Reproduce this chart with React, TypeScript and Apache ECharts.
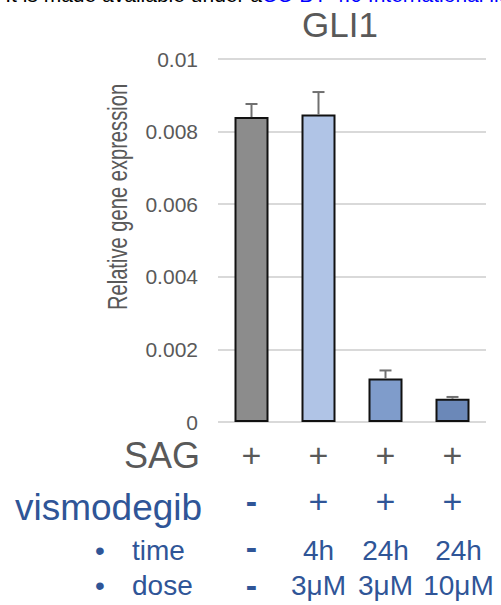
import React, { useEffect, useRef } from "react";
import * as echarts from "echarts";

const categories = ["SAG", "SAG+vismo 4h 3μM", "SAG+vismo 24h 3μM", "SAG+vismo 24h 10μM"];
const values = [0.0084, 0.00847, 0.0012, 0.00064];
const errors = [0.00036, 0.00062, 0.00022, 0.00005];
const barColors = ["#8c8c8c", "#b0c4e6", "#7f9ccb", "#6b88b8"];
const sagRow = ["+", "+", "+", "+"];
const vismoRow = ["-", "+", "+", "+"];
const timeRow = ["-", "4h", "24h", "24h"];
const doseRow = ["-", "3μM", "3μM", "10μM"];
const yTicks = { min: 0, max: 0.01, interval: 0.002 };

const FONT = "'Liberation Sans', Arial, sans-serif";
const GRAY = "#595959";
const BLUE = "#2f5597";

export default function App() {
  const ref = useRef<HTMLDivElement>(null);
  useEffect(() => {
    if (!ref.current) return;
    const chart = echarts.init(ref.current, null, { renderer: "svg" });
    const rowAxis = (data: string[], margin: number, fontSize: number, color: string, dashPadBottom: number) => ({
      type: "category",
      gridIndex: 0,
      position: "bottom",
      data,
      axisLine: { show: false },
      axisTick: { show: false },
      splitLine: { show: false },
      axisLabel: {
        margin,
        fontSize,
        color,
        fontFamily: FONT,
        verticalAlign: "middle",
        interval: 0,
        formatter: (v: string, i: number) => {
          if (v === "-") return "{m|-}";
          if (i === data.length - 1 && v.length > 1) return "{r|" + v + "}";
          return v;
        },
        rich: {
          m: { fontSize: 34, lineHeight: 22, fontWeight: "bold", color, fontFamily: FONT, padding: [0, 0, dashPadBottom, 0] },
          r: { fontSize, color, fontFamily: FONT, padding: [0, 0, 0, 12] },
        },
      },
    });
    chart.setOption({
      animation: false,
      grid: { left: 218, right: 15, top: 59, bottom: 183, outerBoundsMode: "none" },
      xAxis: [
        {
          type: "category",
          data: categories,
          axisLine: { show: false },
          axisTick: { show: false },
          axisLabel: { show: false },
        },
        rowAxis(sagRow, 33, 34, GRAY, 0),
        rowAxis(vismoRow, 79, 34, BLUE, 0),
        rowAxis(timeRow, 128, 28, BLUE, 6),
        rowAxis(doseRow, 163, 28, BLUE, 0),
      ],
      yAxis: {
        type: "value",
        min: yTicks.min,
        max: yTicks.max,
        interval: yTicks.interval,
        axisLine: { show: false },
        axisTick: { show: false },
        axisLabel: { fontSize: 21, color: GRAY, fontFamily: FONT, margin: 20 },
        splitLine: { lineStyle: { color: "#d9d9d9", width: 2 } },
      },
      series: [
        {
          type: "bar",
          xAxisIndex: 0,
          barWidth: 34,
          data: values.map((v, i) => ({
            value: v,
            itemStyle: { color: barColors[i], borderColor: "#111", borderWidth: 2 },
          })),
        },
        {
          type: "custom",
          xAxisIndex: 0,
          z: 5,
          data: values.map((v, i) => [i, v, errors[i]]),
          encode: { x: 0, y: 1 },
          renderItem: (params: any, api: any) => {
            const x = api.value(0);
            const v = api.value(1);
            const e = api.value(2);
            const base = api.coord([x, v]);
            const top = api.coord([x, v + e]);
            const style = { stroke: "#707070", lineWidth: 2 };
            return {
              type: "group",
              children: [
                { type: "line", shape: { x1: top[0], y1: base[1], x2: top[0], y2: top[1] }, style },
                { type: "line", shape: { x1: top[0] - 6, y1: top[1], x2: top[0] + 6, y2: top[1] }, style },
              ],
            };
          },
        },
      ],
      graphic: [
        {
          type: "text",
          x: 262,
          y: -6,
          style: { text: "It is made available under a", fill: "#000", font: `21px ${FONT}`, align: "right", verticalAlign: "middle" },
        },
        {
          type: "text",
          x: 262,
          y: -6,
          style: { text: "CC-BY 4.0 International license", fill: "#0000ff", font: `21px ${FONT}`, align: "left", verticalAlign: "middle" },
        },
        {
          type: "text",
          x: 340,
          y: 24,
          style: { text: "GLI1", fill: GRAY, font: `35px ${FONT}`, align: "center", verticalAlign: "middle" },
        },
        {
          type: "text",
          x: 117,
          y: 197,
          rotation: Math.PI / 2,
          scaleX: 0.72,
          scaleY: 1,
          style: { text: "Relative gene expression", fill: GRAY, font: `28px ${FONT}`, align: "center", verticalAlign: "middle" },
        },
        {
          type: "text",
          x: 200,
          y: 455,
          style: { text: "SAG", fill: GRAY, font: `36px ${FONT}`, align: "right", verticalAlign: "middle" },
        },
        {
          type: "text",
          x: 15,
          y: 507,
          style: { text: "vismodegib", fill: BLUE, font: `37px ${FONT}`, align: "left", verticalAlign: "middle" },
        },
        {
          type: "text",
          x: 100,
          y: 550,
          style: { text: "•", fill: BLUE, font: `28px ${FONT}`, align: "center", verticalAlign: "middle" },
        },
        {
          type: "text",
          x: 132,
          y: 550,
          style: { text: "time", fill: BLUE, font: `28px ${FONT}`, align: "left", verticalAlign: "middle" },
        },
        {
          type: "text",
          x: 100,
          y: 585,
          style: { text: "•", fill: BLUE, font: `28px ${FONT}`, align: "center", verticalAlign: "middle" },
        },
        {
          type: "text",
          x: 132,
          y: 585,
          style: { text: "dose", fill: BLUE, font: `28px ${FONT}`, align: "left", verticalAlign: "middle" },
        },
      ],
    });
    return () => chart.dispose();
  }, []);
  return (
    <div
      ref={ref}
      style={{ position: "fixed", left: 0, top: 0, width: 501, height: 605, background: "#fff" }}
    />
  );
}
